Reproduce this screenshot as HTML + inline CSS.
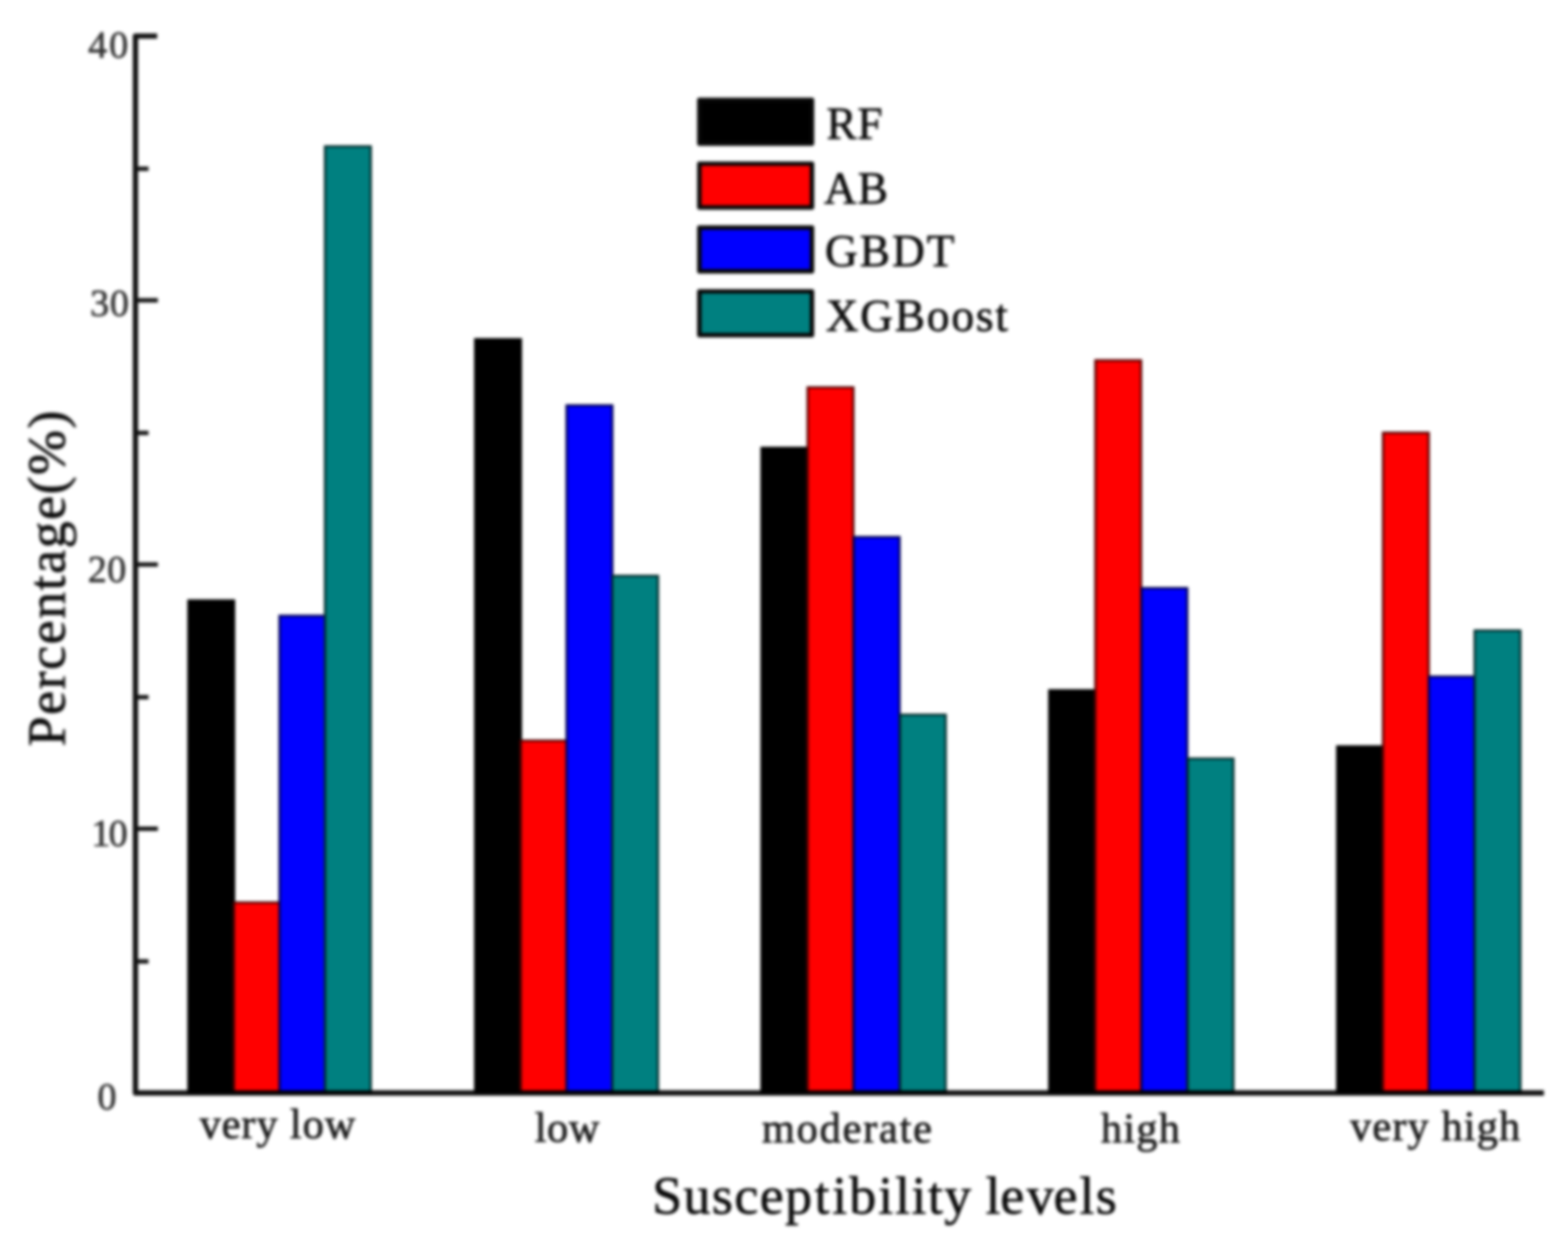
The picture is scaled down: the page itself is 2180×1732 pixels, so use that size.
<!DOCTYPE html>
<html lang="en"><head><meta charset="utf-8"><title>Susceptibility levels</title>
<style>
html,body{margin:0;padding:0;background:#fff;}
body{width:2180px;height:1732px;overflow:hidden;}
svg{display:block;}
text{font-family:"Liberation Serif","DejaVu Serif",serif;fill:#0c0c0c;stroke:#0c0c0c;stroke-width:0.9;stroke-linejoin:round;}
.tk{fill:#333;stroke:#333;stroke-width:0.9;}
.cat{fill:#1c1c1c;stroke:#1c1c1c;stroke-width:1.0;}
</style></head><body>
<svg width="2180" height="1732" viewBox="0 0 2180 1732" role="img" aria-label="Grouped bar chart of susceptibility level percentages for RF, AB, GBDT and XGBoost">
<defs><filter id="soft" x="-2%" y="-2%" width="104%" height="104%" color-interpolation-filters="sRGB"><feGaussianBlur stdDeviation="2.0"/></filter></defs>
<rect width="2180" height="1732" fill="#ffffff"/>
<g filter="url(#soft)">
<g id="bars">
<rect x="260.6" y="833.3" width="66.4" height="686.0" fill="#000000"/>
<rect x="262.1" y="834.8" width="63.4" height="684.5" fill="none" stroke="#000" stroke-opacity="0.7" stroke-width="3"/>
<rect x="323.9" y="1253.0" width="66.4" height="266.3" fill="#ff0000"/>
<rect x="325.4" y="1254.5" width="63.4" height="264.8" fill="none" stroke="#000" stroke-opacity="0.7" stroke-width="3"/>
<rect x="387.2" y="854.6" width="66.4" height="664.7" fill="#0000ff"/>
<rect x="388.7" y="856.1" width="63.4" height="663.2" fill="none" stroke="#000" stroke-opacity="0.7" stroke-width="3"/>
<rect x="450.5" y="202.0" width="66.4" height="1317.3" fill="#008080"/>
<rect x="452.0" y="203.5" width="63.4" height="1315.8" fill="none" stroke="#000" stroke-opacity="0.7" stroke-width="3"/>
<rect x="659.2" y="470.0" width="66.4" height="1049.3" fill="#000000"/>
<rect x="660.7" y="471.5" width="63.4" height="1047.8" fill="none" stroke="#000" stroke-opacity="0.7" stroke-width="3"/>
<rect x="722.7" y="1028.0" width="66.4" height="491.3" fill="#ff0000"/>
<rect x="724.2" y="1029.5" width="63.4" height="489.8" fill="none" stroke="#000" stroke-opacity="0.7" stroke-width="3"/>
<rect x="786.3" y="562.0" width="66.4" height="957.3" fill="#0000ff"/>
<rect x="787.8" y="563.5" width="63.4" height="955.8" fill="none" stroke="#000" stroke-opacity="0.7" stroke-width="3"/>
<rect x="849.8" y="799.0" width="66.4" height="720.3" fill="#008080"/>
<rect x="851.3" y="800.5" width="63.4" height="718.8" fill="none" stroke="#000" stroke-opacity="0.7" stroke-width="3"/>
<rect x="1057.4" y="621.0" width="66.4" height="898.3" fill="#000000"/>
<rect x="1058.9" y="622.5" width="63.4" height="896.8" fill="none" stroke="#000" stroke-opacity="0.7" stroke-width="3"/>
<rect x="1121.5" y="537.0" width="66.4" height="982.3" fill="#ff0000"/>
<rect x="1123.0" y="538.5" width="63.4" height="980.8" fill="none" stroke="#000" stroke-opacity="0.7" stroke-width="3"/>
<rect x="1185.7" y="745.0" width="66.4" height="774.3" fill="#0000ff"/>
<rect x="1187.2" y="746.5" width="63.4" height="772.8" fill="none" stroke="#000" stroke-opacity="0.7" stroke-width="3"/>
<rect x="1249.8" y="992.0" width="66.4" height="527.3" fill="#008080"/>
<rect x="1251.3" y="993.5" width="63.4" height="525.8" fill="none" stroke="#000" stroke-opacity="0.7" stroke-width="3"/>
<rect x="1457.4" y="958.0" width="66.4" height="561.3" fill="#000000"/>
<rect x="1458.9" y="959.5" width="63.4" height="559.8" fill="none" stroke="#000" stroke-opacity="0.7" stroke-width="3"/>
<rect x="1521.5" y="499.5" width="66.4" height="1019.8" fill="#ff0000"/>
<rect x="1523.0" y="501.0" width="63.4" height="1018.3" fill="none" stroke="#000" stroke-opacity="0.7" stroke-width="3"/>
<rect x="1585.7" y="816.0" width="66.4" height="703.3" fill="#0000ff"/>
<rect x="1587.2" y="817.5" width="63.4" height="701.8" fill="none" stroke="#000" stroke-opacity="0.7" stroke-width="3"/>
<rect x="1649.8" y="1053.0" width="66.4" height="466.3" fill="#008080"/>
<rect x="1651.3" y="1054.5" width="63.4" height="464.8" fill="none" stroke="#000" stroke-opacity="0.7" stroke-width="3"/>
<rect x="1857.7" y="1036.0" width="66.4" height="483.3" fill="#000000"/>
<rect x="1859.2" y="1037.5" width="63.4" height="481.8" fill="none" stroke="#000" stroke-opacity="0.7" stroke-width="3"/>
<rect x="1921.4" y="600.0" width="66.4" height="919.3" fill="#ff0000"/>
<rect x="1922.9" y="601.5" width="63.4" height="917.8" fill="none" stroke="#000" stroke-opacity="0.7" stroke-width="3"/>
<rect x="1985.1" y="939.0" width="66.4" height="580.3" fill="#0000ff"/>
<rect x="1986.6" y="940.5" width="63.4" height="578.8" fill="none" stroke="#000" stroke-opacity="0.7" stroke-width="3"/>
<rect x="2048.8" y="875.0" width="66.4" height="644.3" fill="#008080"/>
<rect x="2050.3" y="876.5" width="63.4" height="642.8" fill="none" stroke="#000" stroke-opacity="0.7" stroke-width="3"/>
</g>
<g id="axes" stroke="#000" stroke-opacity="0.93" fill="none">
<path d="M218.5 50.1 H188.3 V1519.3 H2146.5" stroke-width="7.4" stroke-linejoin="round"/>
<line x1="192.0" y1="1152.0" x2="219.5" y2="1152.0" stroke-width="6.0"/>
<line x1="192.0" y1="784.7" x2="219.5" y2="784.7" stroke-width="6.0"/>
<line x1="192.0" y1="417.4" x2="219.5" y2="417.4" stroke-width="6.0"/>
<line x1="192.0" y1="1336.4" x2="206.5" y2="1336.4" stroke-width="6.0"/>
<line x1="192.0" y1="969.1" x2="206.5" y2="969.1" stroke-width="6.0"/>
<line x1="192.0" y1="601.8" x2="206.5" y2="601.8" stroke-width="6.0"/>
<line x1="192.0" y1="234.6" x2="206.5" y2="234.6" stroke-width="6.0"/>
</g>
<g id="labels">
<text class="tk" x="122.5" y="80.3" font-size="53" letter-spacing="2.70">40</text>
<text class="tk" x="125.3" y="439.4" font-size="53" letter-spacing="1.00">30</text>
<text class="tk" x="122.0" y="808.8" font-size="53" letter-spacing="0.50">20</text>
<text class="tk" x="127.0" y="1175.8" font-size="53" letter-spacing="-2.50">10</text>
<text class="tk" x="135.5" y="1542.4" font-size="53" letter-spacing="0.00">0</text>
<text class="cat" x="277.5" y="1582.2" font-size="59" letter-spacing="1.20">very low</text>
<text class="cat" x="743.5" y="1586.9" font-size="59" letter-spacing="0.65">low</text>
<text class="cat" x="1059.3" y="1588.0" font-size="59" letter-spacing="2.41">moderate</text>
<text class="cat" x="1530.5" y="1588.1" font-size="59" letter-spacing="1.67">high</text>
<text class="cat" x="1877.0" y="1585.4" font-size="59" letter-spacing="1.50">very high</text>
<text class="ttl" x="906.7" y="1687.0" font-size="75" letter-spacing="1.94" dx="0 0 0 0 0 0 1.7 1.7 0.8 0.8 0.8 0 0 0 0 -2.6 -2.4 1.6 -2.4 0.8 0">Susceptibility levels</text>
<text class="lg" x="1149.0" y="193.0" font-size="63" letter-spacing="1.00">RF</text>
<text class="lg" x="1145.5" y="283.0" font-size="63" letter-spacing="1.50">AB</text>
<text class="lg" x="1147.0" y="370.2" font-size="63" letter-spacing="2.83">GBDT</text>
<text class="lg" x="1148.0" y="459.5" font-size="63" letter-spacing="2.53">XGBoost</text>
<text class="ttl" transform="translate(90.0 1036.5) rotate(-90)" x="-1.0" y="0" font-size="75" letter-spacing="2.12">Percentage(%)</text>
</g>
<g id="legend">
<rect x="972.3" y="138.8" width="156.6" height="60.8" fill="#000000" stroke="#080808" stroke-width="6.2" stroke-linejoin="round"/>
<rect x="972.3" y="227.5" width="156.6" height="60.8" fill="#ff0000" stroke="#080808" stroke-width="6.2" stroke-linejoin="round"/>
<rect x="972.3" y="316.3" width="156.6" height="60.8" fill="#0000ff" stroke="#080808" stroke-width="6.2" stroke-linejoin="round"/>
<rect x="972.3" y="405.0" width="156.6" height="60.8" fill="#008080" stroke="#080808" stroke-width="6.2" stroke-linejoin="round"/>
</g>
</g>
</svg>
</body></html>
